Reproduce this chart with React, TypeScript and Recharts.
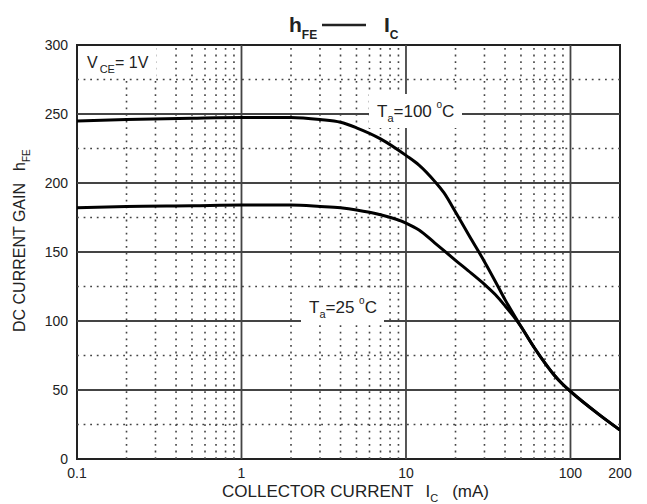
import { LineChart, Line, XAxis, YAxis, ReferenceLine, ReferenceArea } from "recharts";

// collector current (mA) and DC current gain
const icTa100 = [0.1, 0.2, 0.5, 1, 2, 3, 4, 5, 7, 10, 12, 15, 17, 20, 25, 30, 35, 40, 45, 50, 60, 70, 80, 90, 100, 150, 200];
const hfeTa100 = [245, 246, 247, 247.5, 247.5, 246, 244, 240, 232, 220, 213, 201, 193, 179, 159, 143, 128.5, 115.5, 105, 96, 81, 69.5, 60.5, 54, 49, 32, 21];

const icTa25 = [0.1, 0.2, 0.5, 1, 2, 3, 4, 5, 7, 10, 12, 15, 20, 25, 30, 35, 40, 45, 50, 60, 70, 80, 90, 100, 150, 200];
const hfeTa25 = [182, 183, 183.5, 184, 184, 183, 182, 180.5, 177, 171, 166, 156.5, 144, 134.5, 126.5, 119, 111, 103.5, 96, 81, 69.5, 60.5, 54, 49, 32, 21];

const xTicks = [0.1, 1, 10, 100, 200];
const yTicks = [0, 50, 100, 150, 200, 250, 300];
const xMajor = [1, 10, 100];
const xMinor = [0.2, 0.3, 0.4, 0.5, 0.6, 0.7, 0.8, 0.9, 2, 3, 4, 5, 6, 7, 8, 9, 20, 30, 40, 50, 60, 70, 80, 90];
const yMajor = [50, 100, 150, 200, 250];
const yMinor = [25, 75, 125, 175, 225, 275];

const ta100Data = icTa100.map((ic, i) => ({ ic, hfe: hfeTa100[i] }));
const ta25Data = icTa25.map((ic, i) => ({ ic, hfe: hfeTa25[i] }));

const FONT = "Arial, 'Liberation Sans', Helvetica, sans-serif";
const INK = "#222";

function Annotations() {
  return (
    <svg
      width={647}
      height={504}
      style={{ position: "absolute", left: 0, top: 0, pointerEvents: "none" }}
      fontFamily={FONT}
      fill={INK}
    >
      {/* title */}
      <text x={289} y={32} fontSize={21} fontWeight="bold">
        h<tspan fontSize={12} dy={7}>FE</tspan>
      </text>
      <line x1={322} x2={366} y1={25} y2={25} stroke={INK} strokeWidth={2.5} />
      <text x={384} y={32} fontSize={21} fontWeight="bold">
        I<tspan fontSize={12} dy={7}>C</tspan>
      </text>

      {/* V_CE */}
      <rect x={80} y={48} width={76} height={29} fill="#fff" />
      <text x={87} y={68} fontSize={16}>
        V<tspan fontSize={11} dx={2} dy={5}>CE</tspan>
        <tspan fontSize={16} dy={-5}>= 1V</tspan>
      </text>

      {/* Ta = 100 */}
      <rect x={369} y={94} width={93} height={34} fill="#fff" />
      <text x={377} y={117} fontSize={17}>
        T<tspan fontSize={11} dy={5}>a</tspan>
        <tspan fontSize={17} dy={-5}>=100 </tspan>
        <tspan fontSize={10} dy={-9}>o</tspan>
        <tspan fontSize={17} dy={9}>C</tspan>
      </text>

      {/* Ta = 25 */}
      <rect x={301} y={291} width={83} height={34} fill="#fff" />
      <text x={309} y={313} fontSize={17}>
        T<tspan fontSize={11} dy={5}>a</tspan>
        <tspan fontSize={17} dy={-5}>=25 </tspan>
        <tspan fontSize={10} dy={-9}>o</tspan>
        <tspan fontSize={17} dy={9}>C</tspan>
      </text>

      {/* axis titles */}
      <text x={222} y={497} fontSize={17}>
        COLLECTOR CURRENT
        <tspan dx={12}>I</tspan>
        <tspan fontSize={11} dy={5}>C</tspan>
        <tspan fontSize={17} dx={14} dy={-5}>(mA)</tspan>
      </text>
      <text transform="translate(25 332) rotate(-90)" fontSize={16}>
        DC CURRENT GAIN
        <tspan dx={12}>h</tspan>
        <tspan fontSize={10} dy={5}>FE</tspan>
      </text>
    </svg>
  );
}

export default function App() {
  return (
    <div style={{ position: "absolute", left: 0, top: 0, width: 647, height: 504, background: "#fff" }}>
      <LineChart width={647} height={504} margin={{ top: 45, right: 27, left: 17, bottom: 15 }}>
        <XAxis
          type="number"
          dataKey="ic"
          scale="log"
          domain={[0.1, 200]}
          ticks={xTicks}
          allowDataOverflow
          height={30}
          axisLine={false}
          tickLine={false}
          tickSize={0}
          tickMargin={9}
          tickFormatter={(v: number) => String(v)}
          tick={{ fontSize: 14, fill: INK, fontFamily: FONT }}
        />
        <YAxis
          type="number"
          domain={[0, 300]}
          ticks={yTicks}
          width={60}
          axisLine={false}
          tickLine={false}
          tickSize={0}
          tickMargin={9}
          tick={{ fontSize: 14, fill: INK, fontFamily: FONT }}
        />
        {xMinor.map((v) => (
          <ReferenceLine key={`xm${v}`} x={v} stroke="#444" strokeWidth={1.6} strokeDasharray="1.8 4.8" />
        ))}
        {yMinor.map((v) => (
          <ReferenceLine key={`ym${v}`} y={v} stroke="#444" strokeWidth={1.6} strokeDasharray="1.8 4.8" />
        ))}
        {xMajor.map((v) => (
          <ReferenceLine key={`xM${v}`} x={v} stroke="#444" strokeWidth={1.8} />
        ))}
        {yMajor.map((v) => (
          <ReferenceLine key={`yM${v}`} y={v} stroke="#444" strokeWidth={1.8} />
        ))}
        <ReferenceArea x1={0.1} x2={200} y1={0} y2={300} fill="none" stroke="#222" strokeWidth={2} />
        <Line
          data={ta100Data}
          dataKey="hfe"
          type="monotone"
          stroke="#000"
          strokeWidth={3}
          dot={false}
          isAnimationActive={false}
        />
        <Line
          data={ta25Data}
          dataKey="hfe"
          type="monotone"
          stroke="#000"
          strokeWidth={3}
          dot={false}
          isAnimationActive={false}
        />
      </LineChart>
      <Annotations />
    </div>
  );
}
